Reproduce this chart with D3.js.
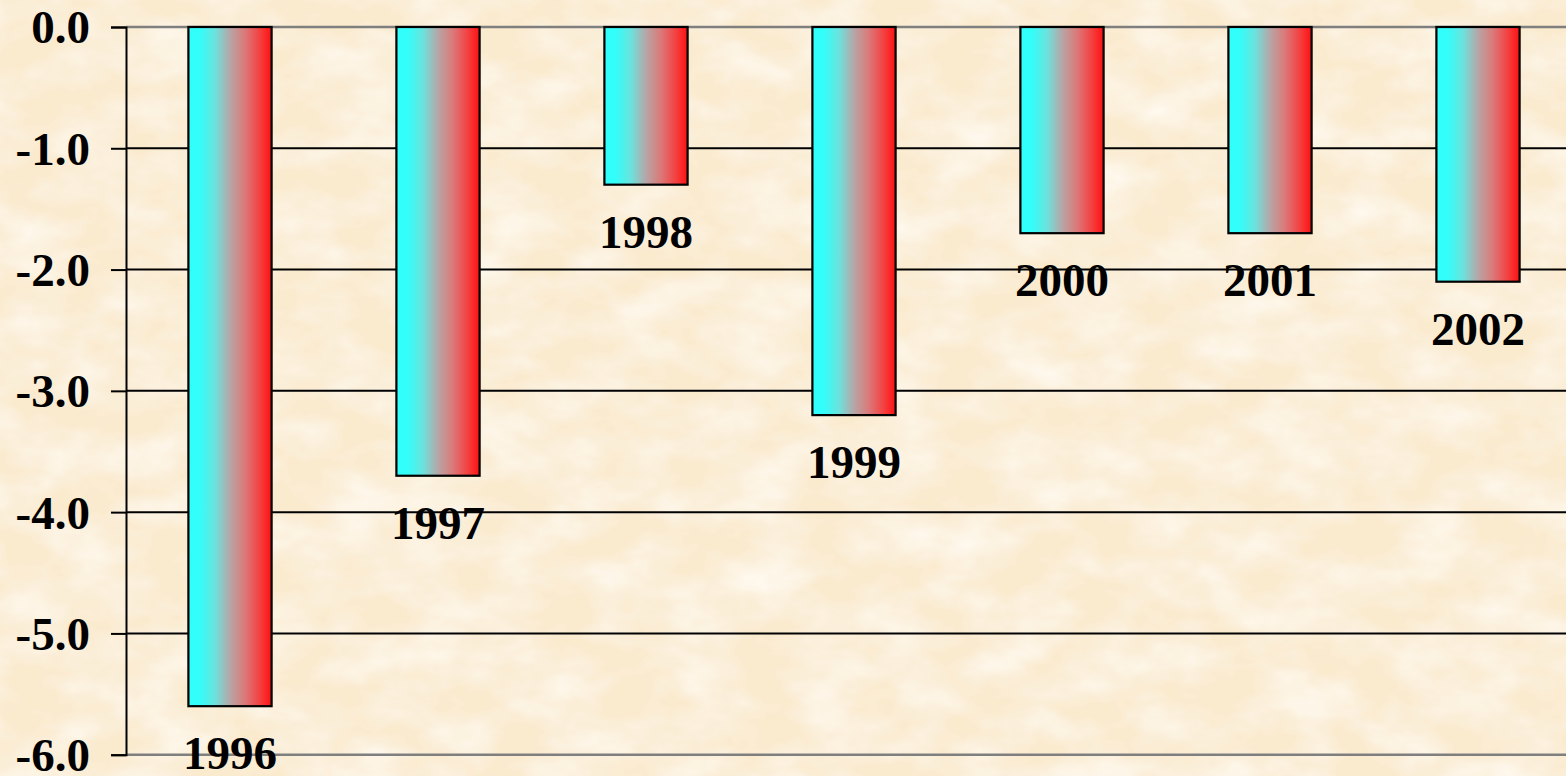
<!DOCTYPE html>
<html><head><meta charset="utf-8">
<script src="https://cdn.jsdelivr.net/npm/d3@7"></script>
<style>html,body{margin:0;padding:0;background:#fbedd5;overflow:hidden}</style>
</head><body>
<script>
const years = ["1996","1997","1998","1999","2000","2001","2002"];
const values = [-5.6,-3.7,-1.3,-3.2,-1.7,-1.7,-2.1];
const yTicks = [0,-1,-2,-3,-4,-5,-6];

const W = 1566, H = 776;
const svg = d3.select("body").append("svg").attr("width",W).attr("height",H);
const defs = svg.append("defs");

// parchment texture (subtle)
const f = defs.append("filter").attr("id","paper").attr("x",0).attr("y",0).attr("width","100%").attr("height","100%");
f.append("feTurbulence").attr("type","fractalNoise").attr("baseFrequency","0.015 0.025").attr("numOctaves",4).attr("seed",3).attr("result","n");
f.append("feColorMatrix").attr("in","n").attr("type","matrix")
  .attr("values","0 0 0 0 0.998  0 0 0 0 0.965  0 0 0 0 0.90  0 0 0 -1.4 0.95").attr("result","c");
f.append("feComposite").attr("in","c").attr("in2","SourceGraphic").attr("operator","over");
svg.append("rect").attr("width",W).attr("height",H).attr("fill","#faeace");
svg.append("rect").attr("width",W).attr("height",H).attr("fill","#faeace").attr("filter","url(#paper)");

const g = defs.append("linearGradient").attr("id","barGrad").attr("x1","0%").attr("x2","100%").attr("y1","0%").attr("y2","0%");
[[0,"#2ffffb"],[0.14,"#33fdf9"],[0.32,"#6ce2de"],[0.5,"#b6a6a6"],[0.68,"#dc7878"],[0.86,"#f44040"],[1,"#ff1010"]]
 .forEach(([o,c])=>g.append("stop").attr("offset",o).attr("stop-color",c));

const x0 = 126, x1 = 126 + 7*208;
const x = d3.scaleBand().domain(years).range([x0,x1]).paddingInner(0.6).paddingOuter(0.3);
const y = d3.scaleLinear().domain([0,-6]).range([27,754.7]);

// gridlines
svg.append("g").selectAll("line").data(yTicks).join("line")
  .attr("x1",x0).attr("x2",W).attr("y1",d=>y(d)).attr("y2",d=>y(d))
  .attr("stroke",d=>(d===0||d===-6)?"#7f7f7f":"#000").attr("stroke-width",d=>(d===0||d===-6)?2.5:2);

// y axis
const yAxis = d3.axisLeft(y).tickValues(yTicks).tickSize(15).tickPadding(21).tickFormat(d=>d3.format(".1f")(d).replace("−","-"));
const ya = svg.append("g").attr("transform",`translate(${x0},0)`).call(yAxis);
ya.select(".domain").attr("stroke","#000").attr("stroke-width",2);
ya.selectAll(".tick line").attr("stroke","#000").attr("stroke-width",2);
ya.selectAll(".tick text").attr("font-family","'Liberation Serif','Times New Roman',serif")
  .attr("font-weight","bold").attr("font-size",47).attr("fill","#000").attr("dy","0.34em");

// bars
svg.append("g").selectAll("rect").data(values).join("rect")
  .attr("x",(d,i)=>x(years[i])).attr("width",x.bandwidth())
  .attr("y",y(0)).attr("height",d=>y(d)-y(0))
  .attr("fill","url(#barGrad)").attr("stroke","#000").attr("stroke-width",2.2);

// labels
svg.append("g").selectAll("text").data(values).join("text")
  .attr("x",(d,i)=>x(years[i])+x.bandwidth()/2).attr("y",d=>y(d)+63)
  .attr("text-anchor","middle").attr("font-family","'Liberation Serif','Times New Roman',serif")
  .attr("font-weight","bold").attr("font-size",47).attr("fill","#000")
  .text((d,i)=>years[i]);
</script>
</body></html>
